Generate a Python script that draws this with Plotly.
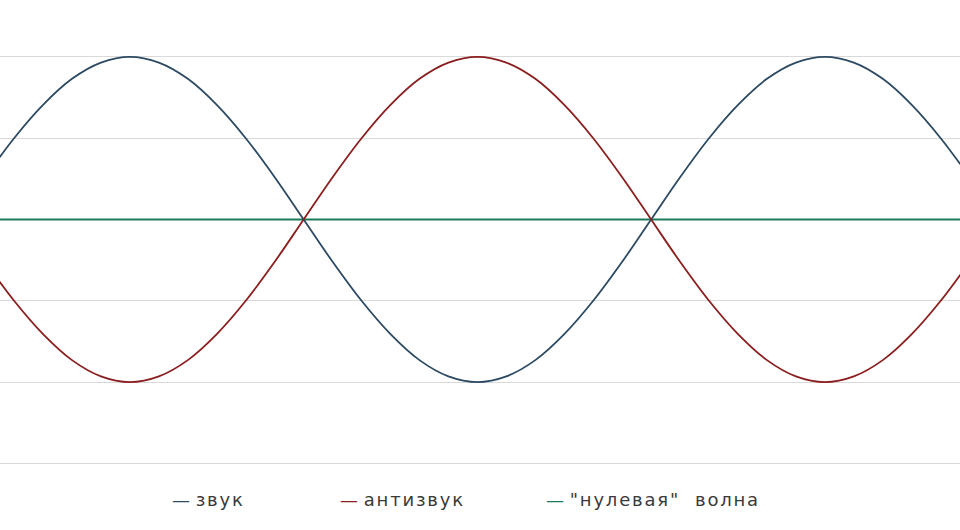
import plotly.graph_objects as go

# phase in degrees (amplitude = 2 grid steps)
phase = [0, 15, 30, 45, 60, 75, 90, 105, 120, 135, 150, 165, 180, 195, 210,
         225, 240, 255, 270, 285, 300, 315, 330, 345, 360, 375, 390, 405,
         420, 435, 450, 465, 480, 495, 510, 525, 540]
sound = [0, 0.52, 1.0, 1.41, 1.73, 1.93, 2.0, 1.93, 1.73, 1.41, 1.0, 0.52, 0,
         -0.52, -1.0, -1.41, -1.73, -1.93, -2.0, -1.93, -1.73, -1.41, -1.0,
         -0.52, 0, 0.52, 1.0, 1.41, 1.73, 1.93, 2.0, 1.93, 1.73, 1.41, 1.0,
         0.52, 0]
antisound = [0, -0.52, -1.0, -1.41, -1.73, -1.93, -2.0, -1.93, -1.73, -1.41,
             -1.0, -0.52, 0, 0.52, 1.0, 1.41, 1.73, 1.93, 2.0, 1.93, 1.73,
             1.41, 1.0, 0.52, 0, -0.52, -1.0, -1.41, -1.73, -1.93, -2.0,
             -1.93, -1.73, -1.41, -1.0, -0.52, 0]
null_wave = [0] * len(phase)

series = [
    ("звук", sound, "#2c4a63"),
    ("антизвук", antisound, "#8b1e1e"),
    ("\"нулевая\"&nbsp;&nbsp;волна", null_wave, "#1e7a5c"),
]

fig = go.Figure()
fig.add_trace(go.Scatter(x=phase, y=null_wave, mode="lines", line_shape="spline",
                         line=dict(color="#1e7a5c", width=2.2), showlegend=False))
fig.add_trace(go.Scatter(x=phase, y=sound, mode="lines", line_shape="spline",
                         line=dict(color="#2c4a63", width=1.8), showlegend=False))
fig.add_trace(go.Scatter(x=phase, y=antisound, mode="lines", line_shape="spline",
                         line=dict(color="#8b1e1e", width=1.8), showlegend=False))

# hand-made legend below the plot
legend_x = [170 / 960, 338 / 960, 544 / 960]
for (name, _, color), lx in zip(series, legend_x):
    fig.add_annotation(
        x=lx, y=-0.075, xref="paper", yref="paper",
        xanchor="left", yanchor="middle", showarrow=False,
        text=(f'<span style="color:{color}">—</span>&nbsp;'
              f'<span style="letter-spacing:1.8px">{name}</span>'),
        font=dict(family="DejaVu Sans", size=18, color="#3a3a3a"),
    )

fig.update_layout(
    width=960, height=530,
    margin=dict(l=0, r=0, t=0, b=65),
    paper_bgcolor="white", plot_bgcolor="white",
    xaxis=dict(range=[22.7, 520], showgrid=False, zeroline=False,
               showticklabels=False, ticks=""),
    yaxis=dict(range=[-3.02, 2.7], tickvals=[-3, -2, -1, 0, 1, 2],
               showgrid=True, gridcolor="#d9d9d9", gridwidth=1,
               zeroline=False, showticklabels=False, ticks=""),
)

fig.write_html("out.html", config={"displayModeBar": False},
               post_script="document.body.style.margin='0';")
